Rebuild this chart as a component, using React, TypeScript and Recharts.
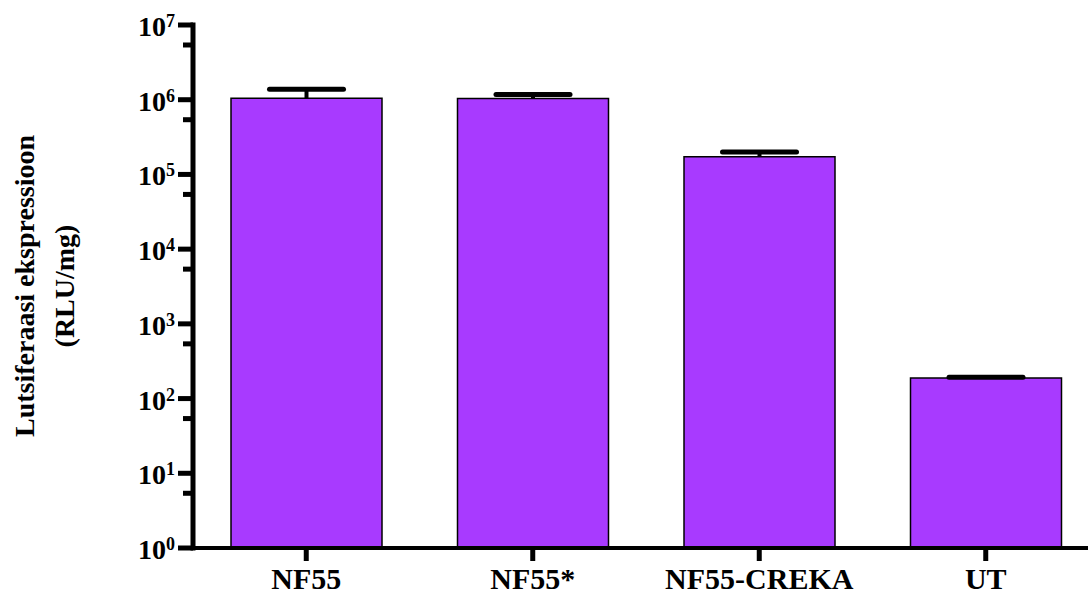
import React from 'react';
import { BarChart, Bar, XAxis, YAxis } from 'recharts';

const categories = ['NF55', 'NF55*', 'NF55-CREKA', 'UT'];
const meanValues = [1.05e6, 1.035e6, 1.73e5, 189];
const upperErrors = [3.3e5, 1.35e5, 2.7e4, 4];
const majorTicks = [1, 10, 100, 1e3, 1e4, 1e5, 1e6, 1e7];
const majorExponents = ['0', '1', '2', '3', '4', '5', '6', '7'];
const minorTicks = [5.4, 54, 540, 5.4e3, 5.4e4, 5.4e5, 5.4e6];
const titleLines = ['Lutsiferaasi ekspressioon', '(RLU/mg)'];

const data = categories.map((name, i) => ({ name, mean: meanValues[i], err: upperErrors[i] }));

const FONT = '"Liberation Serif", "Times New Roman", serif';

const YTick = (props: any) => {
  const { x, y, payload } = props;
  const idx = majorTicks.indexOf(payload.value);
  if (idx < 0) {
    return <line x1={x - 10} x2={x} y1={y} y2={y} stroke="#000" strokeWidth={5} />;
  }
  return (
    <g>
      <line x1={x - 15} x2={x} y1={y} y2={y} stroke="#000" strokeWidth={5} />
      <text x={x - 18} y={y + 11} textAnchor="end" fontFamily={FONT} fontWeight="bold" fontSize={28} fill="#000">
        10<tspan dy={-9} fontSize={18}>{majorExponents[idx]}</tspan>
      </text>
    </g>
  );
};

const XTick = (props: any) => {
  const { x, y, payload } = props;
  return (
    <g>
      <line x1={x} x2={x} y1={y} y2={y + 13} stroke="#000" strokeWidth={5} />
      <text x={x} y={y + 41} textAnchor="middle" fontFamily={FONT} fontWeight="bold" fontSize={30} fill="#000">
        {payload.value}
      </text>
    </g>
  );
};

const ErrShape = (props: any) => {
  const { x, y, width, height } = props;
  const cx = x + width / 2;
  return (
    <g>
      <line x1={cx} x2={cx} y1={y} y2={y + height} stroke="#000" strokeWidth={4} />
      <line x1={cx - 37} x2={cx + 37} y1={y} y2={y} stroke="#000" strokeWidth={5} strokeLinecap="round" />
    </g>
  );
};

const TitleLabel = () => (
  <g>
    {titleLines.map((t, i) => {
      const bx = 34 + i * 40;
      return (
        <text key={i} x={bx} y={286} transform={`rotate(-90 ${bx} 286)`} textAnchor="middle" fontFamily={FONT} fontWeight="bold" fontSize={28} fill="#000">
          {t}
        </text>
      );
    })}
  </g>
);

export default function App() {
  return (
    <div style={{ position: 'absolute', left: 0, top: 0, width: 1088, height: 594, overflow: 'hidden', background: '#fff' }}>
      <BarChart width={1100} height={594} data={data} margin={{ top: 25, right: 1, bottom: 0, left: 0 }} barSize={151}>
        <XAxis
          dataKey="name"
          height={46}
          axisLine={{ stroke: '#000', strokeWidth: 4, strokeLinecap: 'square' }}
          tickLine={false}
          tickSize={0}
          tickMargin={0}
          tick={<XTick />}
          interval={0}
        />
        <YAxis
          type="number"
          scale="log"
          domain={[1, 1e7]}
          allowDataOverflow
          width={193}
          ticks={[...majorTicks, ...minorTicks]}
          interval={0}
          axisLine={{ stroke: '#000', strokeWidth: 5, strokeLinecap: 'square' }}
          tickLine={false}
          tickSize={0}
          tickMargin={0}
          tick={<YTick />}
          label={{ content: <TitleLabel /> }}
        />
        <Bar dataKey="mean" stackId="a" fill="#A83AFF" stroke="#000" strokeWidth={1.5} isAnimationActive={false} />
        <Bar dataKey="err" stackId="a" isAnimationActive={false} shape={<ErrShape />} />
      </BarChart>
    </div>
  );
}
